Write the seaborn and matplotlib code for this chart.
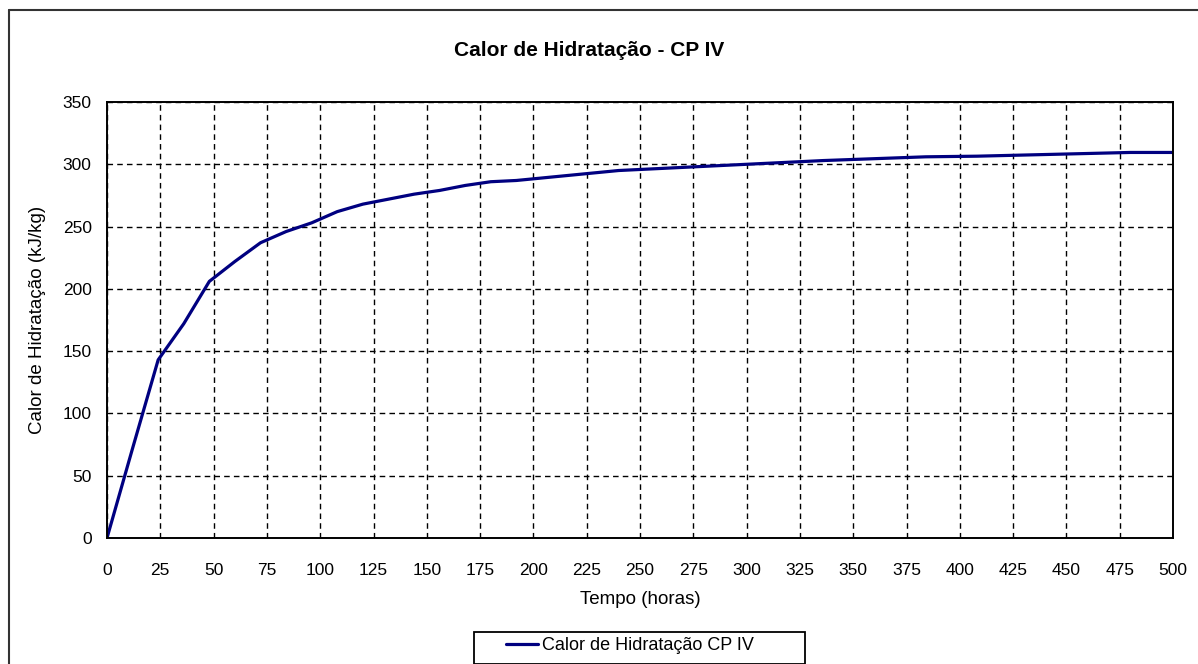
import matplotlib
matplotlib.use("Agg")
import matplotlib.pyplot as plt
from matplotlib.lines import Line2D
from matplotlib.patches import Rectangle
import seaborn as sns
import pandas as pd

# Heat of hydration of CP IV cement (kJ/kg) against time (hours)
tempo_h = [0, 12, 24, 36, 48, 60, 72, 84, 96, 108, 120, 132, 144, 156, 168,
           180, 192, 216, 240, 264, 288, 312, 336, 360, 384, 408, 432, 456,
           480, 500]
calor_kjkg = [0, 72, 143, 172, 206, 222, 237, 246, 253, 262, 268, 272, 276,
              279, 283, 286, 287, 291, 295, 297, 299, 301, 303, 304.5, 306,
              306.5, 307.5, 308.5, 309.5, 309.5]

x_ticks = list(range(0, 501, 25))
y_ticks = list(range(0, 351, 50))

titulo = "Calor de Hidratação - CP IV"
rotulo_x = "Tempo (horas)"
rotulo_y = "Calor de Hidratação (kJ/kg)"
serie = "Calor de Hidratação CP IV"

df = pd.DataFrame({"Tempo": tempo_h, "Calor": calor_kjkg})

sns.set_style("white")
plt.rcParams["font.family"] = ["Liberation Sans", "DejaVu Sans"]
plt.rcParams["text.color"] = "black"
plt.rcParams["axes.labelcolor"] = "black"

W, H = 1198, 664
fig = plt.figure(figsize=(W / 100, H / 100), dpi=100)
ax = fig.add_axes([107 / W, 1 - 538 / H, (1173 - 107) / W, (538 - 102) / H])

sns.lineplot(data=df, x="Tempo", y="Calor", ax=ax, color="#000080",
             linewidth=2.3, legend=False)

ax.set_xlim(0, 500)
ax.set_ylim(0, 350)
ax.set_xticks(x_ticks)
ax.set_yticks(y_ticks)
ax.tick_params(axis="both", direction="out", length=5, width=1.2,
               color="black", labelsize=12.5, labelcolor="black")
ax.tick_params(axis="x", pad=13)
ax.tick_params(axis="y", pad=6)
for s in ax.spines.values():
    s.set_color("black")
    s.set_linewidth(1.4)

ax.grid(True, color="black", linestyle=(0, (4, 3)), linewidth=1.0)
ax.set_axisbelow(True)

ax.set_xlabel(rotulo_x, fontsize=13.5, labelpad=9)
ax.set_ylabel(rotulo_y, fontsize=13.5, labelpad=12)

fig.text(589 / W, 1 - 50 / H, titulo, ha="center", va="center",
         fontsize=15, fontweight="bold")

# Chart-area frame (top and left edges)
fig.add_artist(Line2D([8.5 / W, 1.0], [1 - 10 / H, 1 - 10 / H],
                      transform=fig.transFigure, color="#333333", linewidth=1.5))
fig.add_artist(Line2D([8.5 / W, 8.5 / W], [0, 1 - 10 / H],
                      transform=fig.transFigure, color="#333333", linewidth=1.5))

# Legend: box plus handle and label
fig.add_artist(Rectangle((474 / W, 0), 331 / W, (664 - 632) / H,
                         transform=fig.transFigure, fill=False,
                         edgecolor="black", linewidth=1.3))
handle = Line2D([], [], color="#000080", linewidth=2.3)
leg = fig.legend([handle], [serie], loc="center left",
                 bbox_to_anchor=(506 / W, 1 - 646 / H),
                 frameon=False, fontsize=13, handlelength=1.75,
                 handletextpad=0.25, borderpad=0, borderaxespad=0)

fig.savefig("out.png", dpi=100)
